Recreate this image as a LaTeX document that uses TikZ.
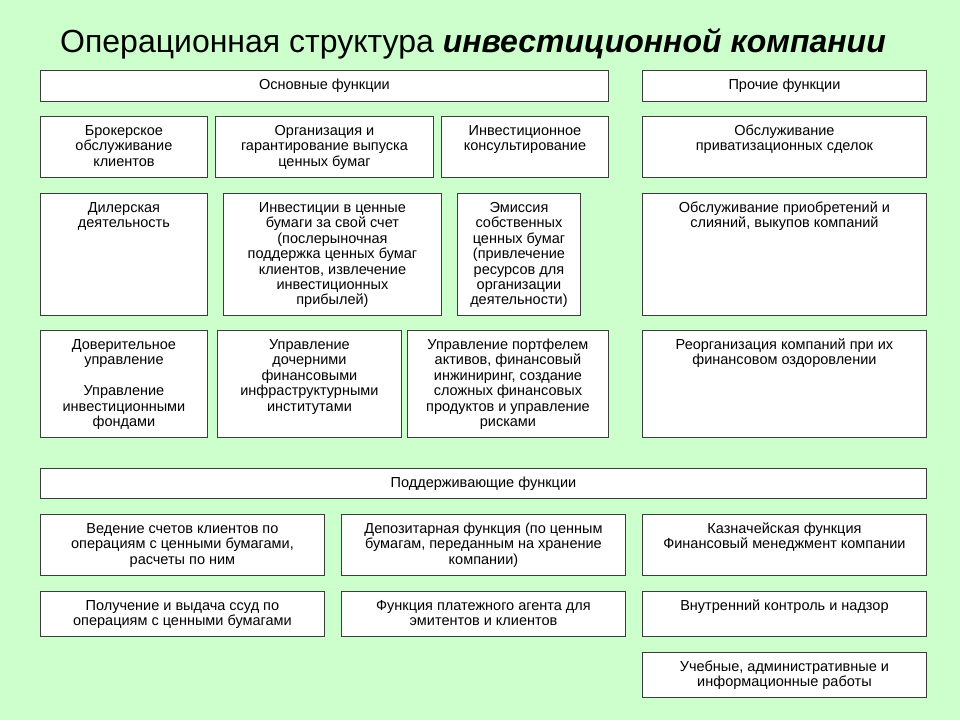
\documentclass[tikz,border=0pt]{standalone}
\usepackage{fontspec}
\setmainfont{Liberation Sans}
\definecolor{bg}{RGB}{204,255,204}
\definecolor{framec}{RGB}{60,60,60}
\tikzset{
  bx/.style={draw=framec, fill=white, line width=0.9pt, inner sep=0pt, anchor=north west},
  ttl/.style={anchor=base west, inner sep=0pt}
}
% name, x, y, w, h, text
\newcommand\bx[6]{%
  \node[bx] (#1) at (#2,#3) {\parbox[t][#5pt][t]{#4pt}{\centering\fontsize{14.5}{15.4}\selectfont\rule{0pt}{19pt}#6\par}};}
\begin{document}
\begin{tikzpicture}[x=1pt,y=-1pt]
\fill[bg] (0,0) rectangle (960,720);
\useasboundingbox (0,0) rectangle (960,720);
\node[ttl] (title) at (60,52) {\fontsize{32}{34}\selectfont Операционная структура \textbf{\textit{инвестиционной компании}}};
\bx{main}{40}{70}{568}{31}{Основные функции}
\bx{other}{642}{70}{284}{31}{Прочие функции}
% row 1
\bx{a1}{40}{116}{167}{61}{Брокерское\\обслуживание\\клиентов}
\bx{a2}{215}{116}{218}{61}{Организация и\\гарантирование выпуска\\ценных бумаг}
\bx{a3}{441}{116}{167}{61}{Инвестиционное\\консультирование}
\bx{a4}{642}{116}{284}{61}{Обслуживание\\приватизационных сделок}
% row 2
\bx{b1}{40}{193}{167}{122}{Дилерская\\деятельность}
\bx{b2}{223}{193}{218}{122}{Инвестиции в ценные\\бумаги за свой счет\\(послерыночная\\поддержка ценных бумаг\\клиентов, извлечение\\инвестиционных\\прибылей)}
\bx{b3}{457}{193}{123}{122}{Эмиссия\\собственных\\ценных бумаг\\(привлечение\\ресурсов для\\организации\\деятельности)}
\bx{b4}{642}{193}{284}{122}{Обслуживание приобретений и\\слияний, выкупов компаний}
% row 3
\bx{c1}{40}{330}{167}{107}{Доверительное\\управление\\[15.4pt]Управление\\инвестиционными\\фондами}
\bx{c2}{217}{330}{184}{107}{Управление\\дочерними\\финансовыми\\инфраструктурными\\институтами}
\bx{c3}{407}{330}{201}{107}{Управление портфелем\\активов, финансовый\\инжиниринг, создание\\сложных финансовых\\продуктов и управление\\рисками}
\bx{c4}{642}{330}{284}{107}{Реорганизация компаний при их\\финансовом оздоровлении}
% support
\bx{sup}{40}{468}{886}{30}{Поддерживающие функции}
\bx{d1}{40}{514}{284}{61}{Ведение счетов клиентов по\\операциям с ценными бумагами,\\расчеты по ним}
\bx{d2}{341}{514}{284}{61}{Депозитарная функция (по ценным\\бумагам, переданным на хранение\\компании)}
\bx{d3}{642}{514}{284}{61}{Казначейская функция\\Финансовый менеджмент компании}
\bx{e1}{40}{591}{284}{45}{Получение и выдача ссуд по\\операциям с ценными бумагами}
\bx{e2}{341}{591}{284}{45}{Функция платежного агента для\\эмитентов и клиентов}
\bx{e3}{642}{591}{284}{45}{Внутренний контроль и надзор}
\bx{f1}{642}{652}{284}{45}{Учебные, административные и\\информационные работы}
\end{tikzpicture}
\end{document}
